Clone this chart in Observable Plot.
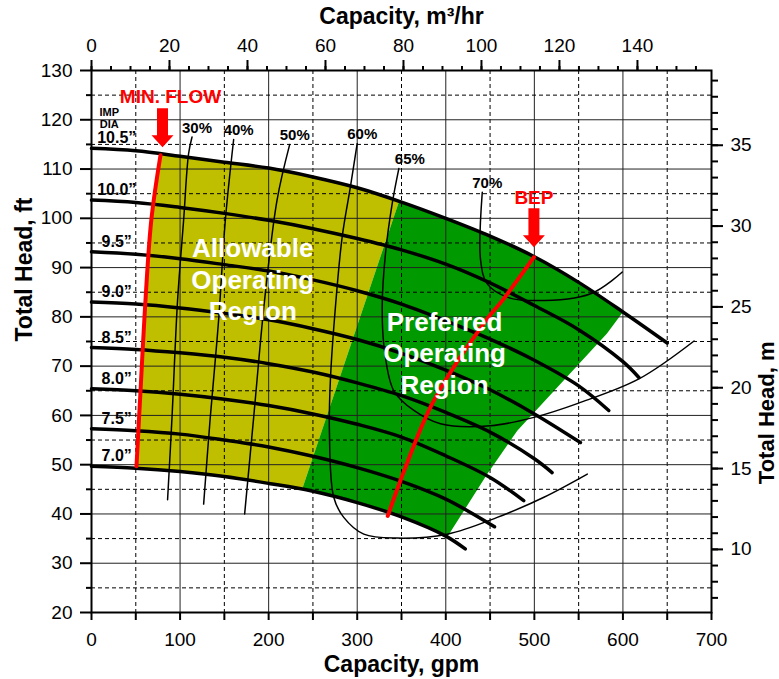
<!DOCTYPE html>
<html><head><meta charset="utf-8">
<script src="https://cdn.jsdelivr.net/npm/d3@7"></script>
<script src="https://cdn.jsdelivr.net/npm/@observablehq/plot@0.6"></script>
<style>body{margin:0;background:#fff}</style>
</head><body><div id="chart"></div>
<script>
// ---- data (gpm, ft) ----
const dia105 = [[0,114.2],[50,113.7],[100,112.6],[150,111.4],[200,110.2],[250,108.4],[300,106.2],[350,103.3],[400,100.0],[450,96.4],[500,92.2],[550,87.0],[600,81.0],[650,74.7]];
const dia100 = [[0,103.7],[50,103.2],[100,102.2],[150,101.0],[200,99.6],[250,97.9],[300,95.9],[350,93.6],[400,90.7],[450,86.9],[500,82.3],[550,77.4],[600,70.9],[618,67.7]];
const dia95 = [[0,93.2],[50,92.7],[100,91.8],[150,90.6],[200,89.3],[250,87.5],[300,85.3],[350,82.6],[400,79.2],[450,75.5],[500,71.2],[550,66.0],[584,61.0]];
const dia90 = [[0,83.0],[50,82.6],[100,81.8],[150,80.7],[200,79.4],[250,77.6],[300,75.4],[350,72.6],[400,69.2],[450,65.2],[500,60.3],[552,54.5]];
const dia85 = [[0,73.8],[50,73.4],[100,72.7],[150,71.8],[200,70.5],[250,68.8],[300,66.6],[350,64.0],[400,60.6],[450,56.6],[500,51.2],[520,48.4]];
const dia80 = [[0,65.4],[50,65.0],[100,64.3],[150,63.3],[200,62.0],[250,60.3],[300,58.2],[350,55.6],[400,51.8],[450,47.4],[488,42.7]];
const dia75 = [[0,57.3],[50,56.9],[100,56.2],[150,55.0],[200,53.6],[250,51.7],[300,49.4],[350,46.6],[400,43.0],[455,37.4]];
const dia70 = [[0,49.7],[50,49.3],[100,48.6],[150,47.6],[200,46.2],[250,44.6],[300,42.3],[350,39.4],[400,35.5],[422,32.9]];
const diaLabels = ["10.5\u201D","10.0\u201D","9.5\u201D","9.0\u201D","8.5\u201D","8.0\u201D","7.5\u201D","7.0\u201D"];

const eff30 = [[113.5,116.5],[109.6,113.1],[104.0,99.6],[97.2,83.4],[90.9,59.6],[85.9,42.9]];
const eff40 = [[160.5,116.0],[151.1,99.6],[143.5,79.3],[134.1,59.6],[126.6,42.0]];
const eff50 = [[223.8,115.0],[209.5,103.7],[195.2,83.0],[183.1,59.6],[172.9,40.0]];
const eff60 = [[300.0,115.2],[292.3,106.4],[283.0,96.2],[275.4,82.0],[269.7,67.1],[268.6,56.9],[273.5,43.4],[284.8,39.3],[307.4,35.9],[345.1,35.1],[401.6,35.9],[458.1,39.3],[510.8,43.4],[559.8,48.1]];
const eff65 = [[347.0,110.1],[339.5,103.0],[331.9,92.8],[328.2,82.0],[330.8,73.2],[341.3,65.0],[364.0,61.0],[394.0,58.3],[450.5,57.9],[499.5,59.6],[550.0,62.5],[618.0,67.4],[680.3,75.1]];
const eff70 = [[441.2,105.3],[439.3,91.5],[446.8,86.7],[469.4,84.0],[499.5,83.3],[563.6,84.7],[599.3,89.1]];
const effLabels = ["30%","40%","50%","60%","65%","70%"];

const minFlow = [[50.8,49.7],[55.8,66.5],[60.0,80.5],[67.5,99.6],[77.9,112.8]];
const bep = [[334.5,39.6],[354.5,49.5],[386.5,63.0],[446.8,79.6],[463.8,83.3],[499.5,92.1]];
const greenLeft = [[237.8,45.0],[347.0,103.3]];
const greenRight = [[401.6,35.3],[446.8,48.1],[480.7,56.9],[582.0,76.6],[600.0,81.0]];

const gpmLabels = [0,100,200,300,400,500,600,700];
const gpmMinor = [50,150,250,350,450,550,650];
const ftLabels = [20,30,40,50,60,70,80,90,100,110,120,130];
const ftMinor = [25,35,45,55,65,75,85,95,105,115,125];
const m3hLabels = [0,20,40,60,80,100,120,140];
const m3hMinor = d3.range(0,160,5);
const mLabels = [10,15,20,25,30,35];
const mMinor = d3.range(7,40,1);

const GPM_PER_M3H = 4.402868;
const FT_PER_M = 3.28084;

// ---- helpers ----
function interp(c, q){
  for(let i=0;i<c.length-1;i++){
    const [q0,h0]=c[i],[q1,h1]=c[i+1];
    if(q>=q0 && q<=q1) return [q, h0+(h1-h0)*(q-q0)/(q1-q0)];
  }
  return c[c.length-1];
}
function seg(c,a,b){
  return [interp(c,a), ...c.filter(p=>p[0]>a && p[0]<b), interp(c,b)];
}
const yellowPoly = [...minFlow, ...seg(dia105, minFlow.at(-1)[0], greenLeft.at(-1)[0]), ...[...greenLeft].reverse(), ...seg(dia70, minFlow[0][0], greenLeft[0][0]).reverse()];
const greenPoly = [...greenLeft, ...seg(dia105, greenLeft.at(-1)[0], greenRight.at(-1)[0]), ...[...greenRight].reverse(), ...seg(dia70, greenLeft[0][0], greenRight[0][0]).reverse()];

const diaCurves = [dia105,dia100,dia95,dia90,dia85,dia80,dia75,dia70];
const diaRows = diaCurves.flatMap((c,k)=>c.map(p=>({q:p[0],h:p[1],k})));
const effCurves = [eff30,eff40,eff50,eff60,eff65,eff70];
const effRows = effCurves.flatMap((c,k)=>c.map(p=>({q:p[0],h:p[1],k})));
const effStarts = effCurves.map((c,k)=>({q:c[0][0],h:c[0][1],t:effLabels[k]}));
const diaStarts = diaCurves.map((c,k)=>({q:c[0][0],h:c[0][1],t:diaLabels[k]}));

const arrowSym = {draw(ctx){ ctx.moveTo(0,0); ctx.lineTo(-11,-12); ctx.lineTo(-5.5,-12); ctx.lineTo(-5.5,-39); ctx.lineTo(5.5,-39); ctx.lineTo(5.5,-12); ctx.lineTo(11,-12); ctx.closePath(); }};

const X = d=>d[0], Y = d=>d[1];
const tickFont = 19;

const chart = Plot.plot({
  width: 779, height: 679,
  marginLeft: 91, marginRight: 68, marginTop: 70, marginBottom: 67,
  style: {fontFamily: "'Liberation Sans', Arial, sans-serif", background: "#fff", color: "#000"},
  x: {domain: [0,700], label: null},
  y: {domain: [20,130], label: null},
  marks: [
    Plot.line(yellowPoly, {x: X, y: Y, fill: "#bfbf00", stroke: "none"}),
    Plot.line(greenPoly, {x: X, y: Y, fill: "#009a00", stroke: "none"}),
    Plot.gridX(gpmMinor, {stroke: "#000", strokeOpacity: 1, strokeWidth: 1, strokeDasharray: "4,3"}),
    Plot.gridX(gpmLabels.slice(1,-1), {stroke: "#222", strokeOpacity: 1, strokeWidth: 1}),
    Plot.gridY(ftMinor, {stroke: "#000", strokeOpacity: 1, strokeWidth: 1, strokeDasharray: "4,3"}),
    Plot.gridY(ftLabels.slice(1,-1), {stroke: "#222", strokeOpacity: 1, strokeWidth: 1}),
    Plot.line(effRows, {x: "q", y: "h", z: "k", curve: "catmull-rom", stroke: "#000", strokeWidth: 1.5}),
    Plot.line(diaRows, {x: "q", y: "h", z: "k", curve: "catmull-rom", stroke: "#000", strokeWidth: 3.5}),
    Plot.line(minFlow, {x: X, y: Y, curve: "catmull-rom", stroke: "#ff0000", strokeWidth: 4}),
    Plot.line(bep, {x: X, y: Y, curve: "catmull-rom", stroke: "#ff0000", strokeWidth: 4}),
    Plot.dot([minFlow.at(-1)], {x: X, y: Y, symbol: arrowSym, fill: "#ff0000", stroke: "none", dx: 2, dy: -8}),
    Plot.dot([bep.at(-1)], {x: X, y: Y, symbol: arrowSym, fill: "#ff0000", stroke: "none", dy: -10}),
    Plot.text([minFlow.at(-1)], {x: X, y: Y, text: ()=>"MIN. FLOW", dx: 10, dy: -58, fill: "#ff0000", fontSize: 19, fontWeight: "bold"}),
    Plot.text([bep.at(-1)], {x: X, y: Y, text: ()=>"BEP", dy: -59, fill: "#ff0000", fontSize: 19, fontWeight: "bold"}),
    Plot.text(effStarts.filter(d=>d.t!=="65%"), {x: "q", y: "h", text: "t", dx: 5, dy: -9, fontSize: 15, fontWeight: "bold", fill: "#000"}),
    Plot.text(effStarts.filter(d=>d.t==="65%"), {x: "q", y: "h", text: "t", dx: 11, dy: -9, fontSize: 15, fontWeight: "bold", fill: "#000"}),
    Plot.text(diaStarts, {x: 28.5, y: "h", text: "t", dy: -10, fontSize: 16, fontWeight: "bold", fill: "#000"}),
    Plot.text([diaStarts[0]], {x: 20, y: "h", text: ()=>"IMP\nDIA", dy: -30, lineHeight: 1.05, fontSize: 11, fontWeight: "bold", fill: "#000"}),
    Plot.text(["Allowable\nOperating\nRegion"], {x: 182, y: 87.8, text: d=>d, fontSize: 26, fontWeight: "bold", fill: "#fff", lineHeight: 1.22}),
    Plot.text(["Preferred\nOperating\nRegion"], {x: 398.6, y: 72.8, text: d=>d, fontSize: 26, fontWeight: "bold", fill: "#fff", lineHeight: 1.22}),
    Plot.frame({stroke: "#000", strokeWidth: 2}),
    Plot.axisX(gpmLabels, {anchor: "bottom", tickSize: 8, tickPadding: 12, fontSize: tickFont, strokeWidth: 2, label: null}),
    Plot.axisX(gpmMinor, {anchor: "bottom", tickSize: 8, tickFormat: ()=>"", strokeWidth: 2, label: null}),
    Plot.axisX(m3hLabels.map(v=>v*GPM_PER_M3H), {anchor: "top", tickSize: 11, tickPadding: 8, tickFormat: d=>String(Math.round(d/GPM_PER_M3H)), fontSize: tickFont, strokeWidth: 2, label: null}),
    Plot.axisX(m3hMinor.map(v=>v*GPM_PER_M3H), {anchor: "top", tickSize: 5, tickFormat: ()=>"", strokeWidth: 2, label: null}),
    Plot.axisY(ftLabels, {anchor: "left", tickSize: 11, tickPadding: 8, fontSize: tickFont, strokeWidth: 2, label: null}),
    Plot.axisY(ftMinor, {anchor: "left", tickSize: 5, tickFormat: ()=>"", strokeWidth: 2, label: null}),
    Plot.axisY(mLabels.map(v=>v*FT_PER_M), {anchor: "right", tickSize: 11, tickPadding: 8, tickFormat: d=>String(Math.round(d/FT_PER_M)), fontSize: tickFont, strokeWidth: 2, label: null}),
    Plot.axisY(mMinor.map(v=>v*FT_PER_M), {anchor: "right", tickSize: 6, tickFormat: ()=>"", strokeWidth: 2, label: null}),
    Plot.text(["Capacity, gpm"], {frameAnchor: "bottom", dy: 59, lineAnchor: "bottom", fontSize: 23, fontWeight: "bold", fill: "#000"}),
    Plot.text(["Capacity, m\u00B3/hr"], {frameAnchor: "top", dy: -47, lineAnchor: "bottom", fontSize: 23, fontWeight: "bold", fill: "#000"}),
    Plot.text(["Total Head, ft"], {frameAnchor: "left", dx: -60, rotate: -90, lineAnchor: "bottom", fontSize: 23, fontWeight: "bold", fill: "#000"}),
    Plot.text(["Total Head, m"], {frameAnchor: "right", dx: 55, rotate: -90, lineAnchor: "middle", fontSize: 22, fontWeight: "bold", fill: "#000"})
  ]
});
document.getElementById("chart").appendChild(chart);
</script></body></html>
